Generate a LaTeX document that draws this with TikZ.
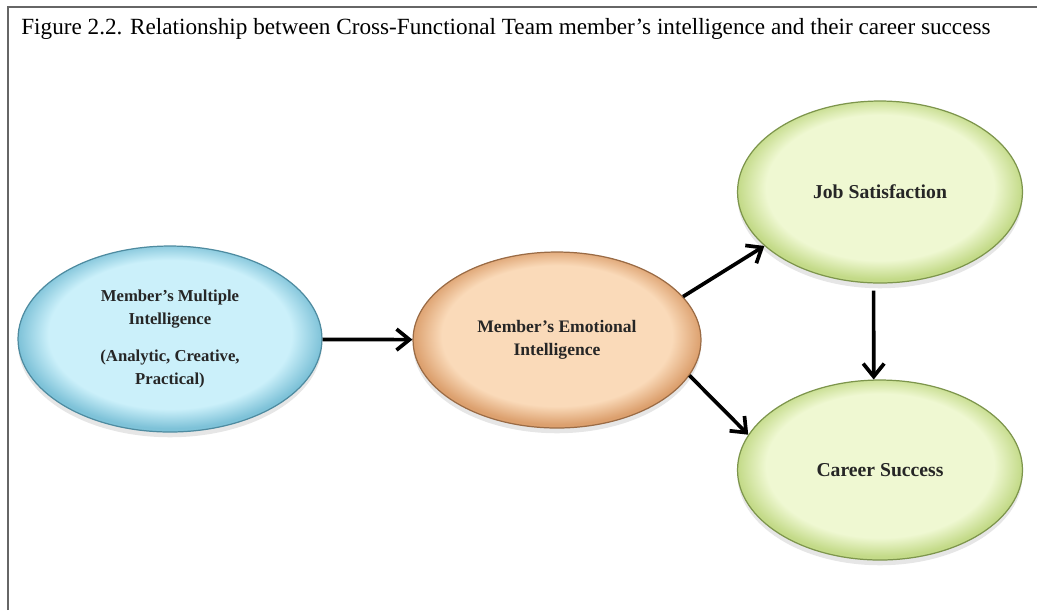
\documentclass[tikz,border=0pt]{standalone}
\usepackage{fontspec}
\setmainfont{Liberation Serif}
\usetikzlibrary{arrows.meta,shapes.geometric,shadows}

\definecolor{multin}{HTML}{CBF0FA}
\definecolor{multout}{HTML}{7EC2D8}
\definecolor{multline}{HTML}{4E8BA0}
\definecolor{emoin}{HTML}{FADAB9}
\definecolor{emoout}{HTML}{DCA06E}
\definecolor{emoline}{HTML}{9A6B45}
\definecolor{succin}{HTML}{EFF8D2}
\definecolor{succout}{HTML}{C3DA88}
\definecolor{succline}{HTML}{7D954C}

\pgfdeclareradialshading{multball}{\pgfpoint{0bp}{2bp}}{color(0bp)=(multin); color(20bp)=(multin); color(25bp)=(multout); color(50bp)=(multout)}
\pgfdeclareradialshading{emoball}{\pgfpoint{0bp}{2bp}}{color(0bp)=(emoin); color(20bp)=(emoin); color(25bp)=(emoout); color(50bp)=(emoout)}
\pgfdeclareradialshading{succball}{\pgfpoint{0bp}{2bp}}{color(0bp)=(succin); color(20bp)=(succin); color(25bp)=(succout); color(50bp)=(succout)}

\tikzset{
  bubble/.style={ellipse, draw=#1line, line width=0.7pt, shading=#1ball, align=center,
    text=black!85, drop shadow={opacity=0.2, shadow xshift=0pt, shadow yshift=-3pt}},
  arr/.style={line width=2.1pt, -{Straight Barb[length=2.6mm,width=4.2mm]}}
}

\begin{document}
\begin{tikzpicture}[x=0.02cm,y=-0.02cm]
\useasboundingbox (0,0) rectangle (1037,610);
\draw[black!60, line width=0.7pt] (8,610) -- (8,7) -- (1037,7);
\node[anchor=base west, inner sep=0pt, font=\fontsize{13.2}{15}\selectfont] (title) at (21,34) {Figure 2.2. Relationship between Cross-Functional Team member's intelligence and their career success};

\node[bubble=mult, minimum width=6.08cm, minimum height=3.72cm, font=\bfseries\fontsize{9.5}{13}\selectfont] (mult) at (170,339) {Member's Multiple\\Intelligence\\[8pt](Analytic, Creative,\\Practical)};
\node[bubble=emo, minimum width=5.76cm, minimum height=3.52cm, font=\bfseries\fontsize{10}{13}\selectfont] (emo) at (557,340) {Member's Emotional\\Intelligence};
\node[bubble=succ, minimum width=5.7cm, minimum height=3.64cm, font=\bfseries\fontsize{11.2}{13}\selectfont] (job) at (880,192) {Job Satisfaction};
\node[bubble=succ, minimum width=5.7cm, minimum height=3.6cm, font=\bfseries\fontsize{11.2}{13}\selectfont] (career) at (880,470) {Career Success};

\draw[arr] (mult) -- (emo);
\draw[arr] (emo.19) -- (job.205);
\draw[arr] (emo.345) -- (career.165);
\draw[arr, shorten <=4pt] (job.266) -- (career.94);
\end{tikzpicture}
\end{document}
